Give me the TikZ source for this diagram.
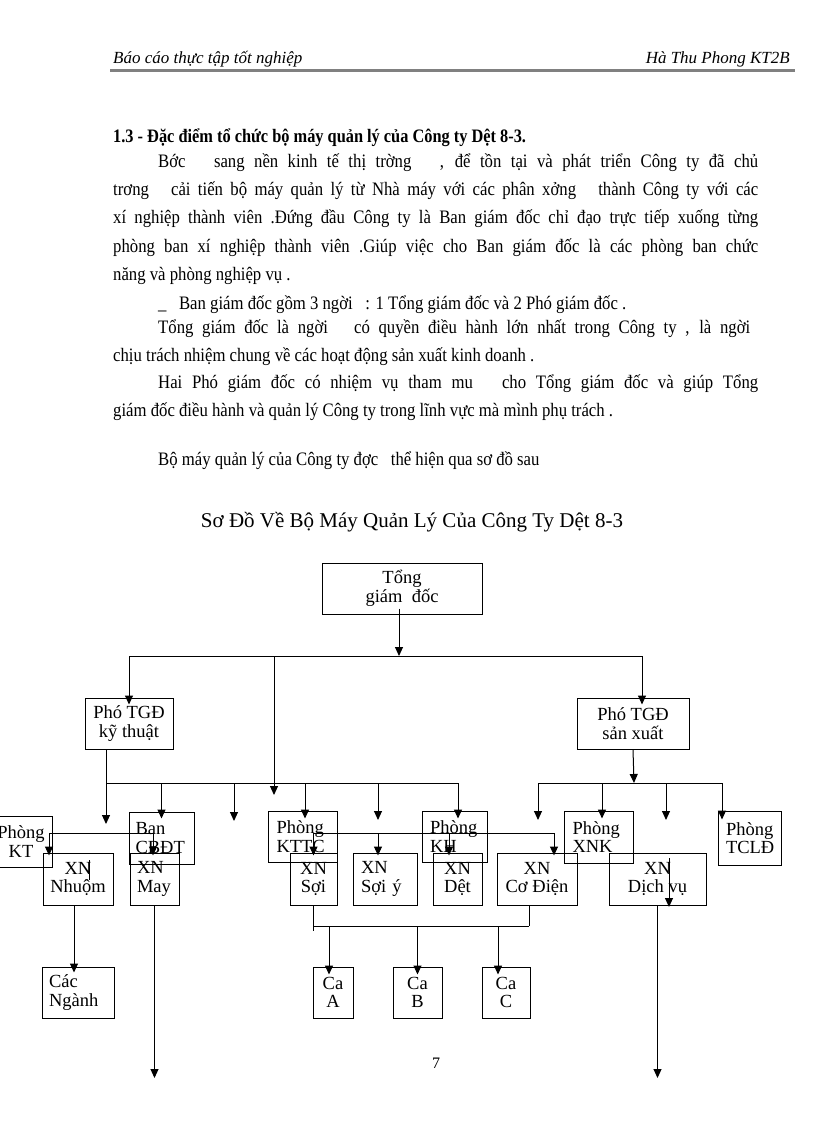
\documentclass[tikz,border=0pt]{standalone}
\usepackage{fontspec}
\setmainfont{Liberation Serif}
\newfontfamily\bodyfont[FakeStretch=0.88]{Liberation Serif}
\newfontfamily\headfont[FakeStretch=0.86]{Liberation Serif}
\usetikzlibrary{arrows.meta}
\newcommand\jline[2]{\makebox[#1][s]{#2}}
\tikzset{
  org box/.style={
    draw,
    rectangle,
    line width=1pt,
    inner sep=0pt,
    align=center,
    font=\fontsize{18.5}{18.5}\selectfont,
  },
  org line/.style={line width=1pt},
  org arrow/.style={line width=1pt, -{Triangle[length=9pt,width=8pt]}},
  body text/.style={anchor=base west, inner sep=0pt, font=\bodyfont\fontsize{19}{28}\selectfont},
  page head/.style={inner sep=0pt, font=\itshape\fontsize{17}{20}\selectfont},
}

\begin{document}
\begin{tikzpicture}[x=1pt, y=-1pt]
  \useasboundingbox (0,0) rectangle (816,1123);

  % page header
  \node[page head, anchor=base west] (hleft) at (113,64) {\underline{Báo cáo thực tập tốt nghiệp}};
  \node[page head, anchor=base east] (hright) at (790,64) {Hà Thu Phong KT2B};
  \draw[line width=3pt, black!50] (110,71) -- (795,71);

  % text of the page
  \node[body text, font=\headfont\bfseries\fontsize{19}{28}\selectfont] (sec) at (113,143) {1.3 - Đặc điểm tổ chức bộ máy quản lý của Công ty Dệt 8-3.};
  \node[body text] (l1) at (158,168) {\jline{600pt}{Bớc\ \ \ sang nền kinh tế thị trờng\ \ \ , để tồn tại và phát triển Công ty đã chủ}};
  \node[body text] (l2) at (113,196) {\jline{645pt}{trơng\ \ \ cải tiến bộ máy quản lý từ Nhà máy với các phân xởng\ \ \ thành Công ty với các}};
  \node[body text] (l3) at (113,224) {\jline{645pt}{xí nghiệp thành viên .Đứng đầu Công ty là Ban giám đốc chỉ đạo trực tiếp xuống từng}};
  \node[body text] (l4) at (113,252) {\jline{645pt}{phòng ban xí nghiệp thành viên .Giúp việc cho Ban giám đốc là các phòng ban chức}};
  \node[body text] (l5) at (113,280) {năng và phòng nghiệp vụ .};
  \node[body text] (l6) at (158,309) {\_\ \ \ Ban giám đốc gồm 3 ngời\ \ \ : 1 Tổng giám đốc và 2 Phó giám đốc .};
  \node[body text] (l7) at (158,333) {\jline{592pt}{Tổng giám đốc là ngời\ \ \ có quyền điều hành lớn nhất trong Công ty , là ngời}};
  \node[body text] (l8) at (113,361) {chịu trách nhiệm chung về các hoạt động sản xuất kinh doanh .};
  \node[body text] (l9) at (158,388) {\jline{600pt}{Hai Phó giám đốc có nhiệm vụ tham mu\ \ \ cho Tổng giám đốc và giúp Tổng}};
  \node[body text] (l10) at (113,416) {giám đốc điều hành và quản lý Công ty trong lĩnh vực mà mình phụ trách .};
  \node[body text] (l11) at (158,465) {Bộ máy quản lý của Công ty đợc\ \ \ thể hiện qua sơ đồ sau};

  \node[anchor=base, inner sep=0pt, font=\fontsize{21}{24}\selectfont] (title) at (412,527) {Sơ Đồ Về Bộ Máy Quản Lý Của Công Ty Dệt 8-3};

  % boxes
  \node[org box, minimum width=160, minimum height=51] (tgd) at (402,588.5) {Tổng\\giám\ \ đốc};
  \node[org box, minimum width=88, minimum height=51] (ptkt) at (129,723.5) {Phó TGĐ\\kỹ thuật};
  \node[org box, minimum width=112, minimum height=51] (ptsx) at (633,723.5) {Phó TGĐ\\sản xuất};

  \node[org box, minimum width=62, minimum height=51] (pkt) at (21,841.5) {Phòng\\KT};
  \node[org box, align=left, text width=52, inner xsep=6.5, minimum height=52] (bancbdt) at (161.5,838) {Ban\\CBĐT};
  \node[org box, align=left, text width=52, inner xsep=8.5, minimum height=51] (pkttc) at (302.5,836.5) {Phòng\\KTTC};
  \node[org box, align=left, text width=49, inner xsep=8, minimum height=51] (pkh) at (454.5,836.5) {Phòng\\KH};
  \node[org box, align=left, text width=52, inner xsep=8.5, minimum height=52] (pxnk) at (598.5,837) {Phòng\\XNK};
  \node[org box, align=left, text width=47, inner xsep=8, minimum height=54] (ptcld) at (749.5,838) {Phòng\\TCLĐ};

  \node[org box, minimum width=70, minimum height=52] (xnnhuom) at (78,879) {XN\\Nhuộm};
  \node[org box, align=left, text width=35, inner xsep=7, minimum height=52] (xnmay) at (154.5,879) {XN\\May};
  \node[org box, minimum width=47, minimum height=52] (xnsoi) at (313.5,879) {XN\\Sợi};
  \node[org box, align=left, text width=48, inner xsep=8, minimum height=52] (xnsoiy) at (385,879) {XN\\Sợi ý};
  \node[org box, minimum width=49, minimum height=52] (xndet) at (457.5,879) {XN\\Dệt};
  \node[org box, minimum width=80, minimum height=52] (xncodien) at (537,879) {XN\\Cơ Điện};
  \node[org box, minimum width=97, minimum height=52] (xndichvu) at (657.5,879) {XN\\Dịch vụ};

  \node[org box, align=left, text width=58, inner xsep=7, minimum height=51] (cacnganh) at (78,992.5) {Các\\Ngành};
  \node[org box, minimum width=40, minimum height=51] (caa) at (333,992.5) {Ca\\A};
  \node[org box, minimum width=49, minimum height=51] (cab) at (417.5,992.5) {Ca\\B};
  \node[org box, minimum width=48, minimum height=51] (cac) at (506,992.5) {Ca\\C};

  \node[inner sep=0pt, font=\fontsize{16}{18}\selectfont] (pageno) at (436,1063) {7};

  % junctions, arrow tips and loose ends
  \coordinate (top) at (399,656);
  \coordinate (kt) at (106,783);
  \coordinate (sx) at (634,783);
  \coordinate (xa) at (0,833);
  \coordinate (ca) at (0,926);
  \coordinate (tptkt) at ([yshift=-7pt]ptkt.north);
  \coordinate (tptsx) at ([xshift=9pt,yshift=-7pt]ptsx.north);
  \coordinate (tban) at ([yshift=-7pt]bancbdt.north);
  \coordinate (tkttc) at ([xshift=2.5pt,yshift=-8pt]pkttc.north);
  \coordinate (tkh) at ([xshift=3.5pt,yshift=-8pt]pkh.north);
  \coordinate (txnk) at ([xshift=3.5pt,yshift=-8pt]pxnk.north);
  \coordinate (ttcld) at ([xshift=-27.5pt,yshift=-9pt]ptcld.north);
  \coordinate (tnhuom) at ([xshift=-29pt,yshift=-3pt]xnnhuom.north);
  \coordinate (tmay) at ([xshift=-1.5pt,yshift=-3pt]xnmay.north);
  \coordinate (tsoi) at ([yshift=-3pt]xnsoi.north);
  \coordinate (tsoiy) at ([xshift=-7pt,yshift=-3pt]xnsoiy.north);
  \coordinate (tdet) at ([xshift=-8.5pt,yshift=-3pt]xndet.north);
  \coordinate (tcodien) at ([xshift=17pt,yshift=-3pt]xncodien.north);
  \coordinate (tnganh) at ([xshift=-4pt,yshift=-6pt]cacnganh.north);
  \coordinate (tcaa) at ([xshift=-4pt,yshift=-8pt]caa.north);
  \coordinate (tcab) at ([yshift=-8pt]cab.north);
  \coordinate (tcac) at ([xshift=-8pt,yshift=-8pt]cac.north);
  \coordinate (bcodien) at ([xshift=-8pt]xncodien.south);
  \coordinate (f1) at (106,824);
  \coordinate (f2) at (234,821);
  \coordinate (f3) at (274,795);
  \coordinate (f4) at (378,820);
  \coordinate (f5) at (538,820);
  \coordinate (f6) at (666,820);
  \coordinate (f7) at (154.5,1078);
  \coordinate (f8) at (657.5,1078);

  % Tong giam doc
  \draw[org arrow] ([xshift=-3pt,yshift=6pt]tgd.south) -- (top);
  \draw[org line] (tptkt |- top) -- (tptsx |- top);
  \draw[org arrow] (tptkt |- top) -- (tptkt);
  \draw[org arrow] (tptsx |- top) -- (tptsx);
  \draw[org arrow] (f3 |- top) -- (f3);

  % Pho TGD ky thuat
  \draw[org line] ([xshift=-23pt]ptkt.south) -- (kt) -- (tkh |- kt);
  \draw[org arrow] (kt) -- (f1);
  \draw[org arrow] (f2 |- kt) -- (f2);
  \draw[org arrow] (f4 |- kt) -- (f4);
  \draw[org arrow] (tban |- kt) -- (tban);
  \draw[org arrow] (tkttc |- kt) -- (tkttc);
  \draw[org arrow] (tkh |- kt) -- (tkh);

  % Pho TGD san xuat
  \draw[org arrow] (ptsx.south) -- (sx);
  \draw[org line] (f5 |- sx) -- (ttcld |- sx);
  \draw[org arrow] (f5 |- sx) -- (f5);
  \draw[org arrow] (f6 |- sx) -- (f6);
  \draw[org arrow] (txnk |- sx) -- (txnk);
  \draw[org arrow] (ttcld |- sx) -- (ttcld);

  % phong ban -> xi nghiep
  \draw[org line] (tnhuom |- xa) -- (tmay |- xa);
  \draw[org arrow] (tnhuom |- xa) -- (tnhuom);
  \draw[org arrow] (tmay |- xa) -- (tmay);
  \draw[org line] (tsoi |- xa) -- (tcodien |- xa);
  \foreach \t in {tsoi,tsoiy,tdet,tcodien}
    \draw[org arrow] (\t |- xa) -- (\t);
  \draw[org line] ([xshift=11pt,yshift=19pt]xnnhuom.center) -- ++(0,20);
  \draw[org arrow] ([xshift=11.5pt,yshift=21pt]xndichvu.center) -- ++(0,49);

  % xi nghiep -> ca
  \draw[org arrow] ([xshift=-4pt]xnnhuom.south) -- (tnganh);
  \draw[org arrow] (xnmay.south) -- (f7);
  \draw[org arrow] (xndichvu.south) -- (f8);
  \draw[org line] (xnsoi.south) -- ++(0,25);
  \draw[org line] (bcodien) -- (bcodien |- ca);
  \draw[org line] (xnsoi.south |- ca) -- (bcodien |- ca);
  \foreach \t in {tcaa,tcab,tcac}
    \draw[org arrow] (\t |- ca) -- (\t);
\end{tikzpicture}
\end{document}
